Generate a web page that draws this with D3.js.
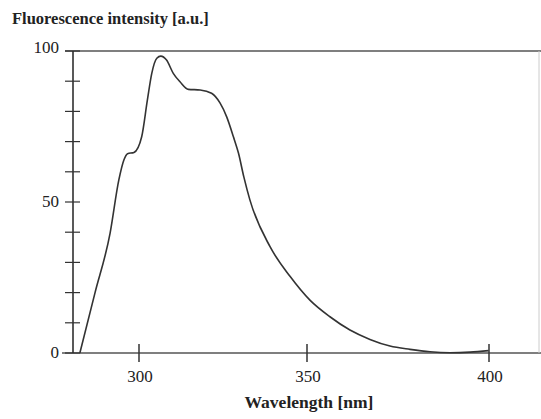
<!DOCTYPE html>
<html>
<head>
<meta charset="utf-8">
<style>
  body { margin: 0; background: #fff; }
  svg { display: block; }
  text { font-family: "Liberation Serif", "DejaVu Serif", serif; fill: #222; }
</style>
</head>
<body>
<svg width="541" height="419"></svg>
<script src="https://d3js.org/d3.v7.min.js"></script>
<script>

// emission spectrum
var wavelength = [282.4, 286.9, 291.4, 294.0, 295.5, 296.6, 298.5, 300.8, 302.5, 303.8, 305.3, 306.5,
                  308.2, 310.2, 312.2, 314.7, 318.2, 321.6, 324.1, 326.1, 328.1, 329.6, 331.2, 333.0,
                  339.0, 345.0, 350.8, 356.3, 361.8, 367.3, 372.8, 378.3, 383.8, 389.3, 394.8, 399.9];
var intensity  = [0, 19.9, 39.7, 57.3, 63.9, 66.0, 66.4, 71.6, 83.8, 92.6, 97.6, 98.3,
                  97.0, 92.6, 89.8, 87.3, 87.1, 86.0, 82.8, 78.2, 71.6, 66.2, 58.3, 50.7,
                  35.2, 25.3, 17.5, 12.0, 7.6, 4.5, 2.3, 1.2, 0.4, 0.1, 0.3, 0.8];

var xTicks = [300, 350, 400];
var yTicks = [0, 50, 100];
var yMinor = d3.range(0, 101, 10);

var svg = d3.select("svg");

// the scan is slightly stretched to the right, so the x scale is piecewise
var x = d3.scaleLinear().domain([300, 350, 400]).range([139, 307, 489]);
var y = d3.scaleLinear().domain([0, 100]).range([353, 51]);

var data = wavelength.map(function(w, i) { return {w: w, v: intensity[i]}; });

// frame lines
svg.append("line")
    .attr("x1", 65).attr("x2", 541)
    .attr("y1", y(100)).attr("y2", y(100))
    .attr("stroke", "#555").attr("stroke-width", 1.5);
svg.append("line")
    .attr("x1", 62).attr("x2", 541)
    .attr("y1", y(0)).attr("y2", y(0))
    .attr("stroke", "#555").attr("stroke-width", 1.5);
svg.append("line")
    .attr("x1", 539).attr("x2", 539)
    .attr("y1", y(100)).attr("y2", y(0))
    .attr("stroke", "#ccc").attr("stroke-width", 1);

// y axis
svg.append("line")
    .attr("x1", 73).attr("x2", 73)
    .attr("y1", y(100)).attr("y2", y(0))
    .attr("stroke", "#222").attr("stroke-width", 1.5);

svg.selectAll(".ytick")
  .data(yMinor)
  .enter().append("line")
    .attr("class", "ytick")
    .attr("x1", 65).attr("x2", 80)
    .attr("y1", function(d) { return y(d); })
    .attr("y2", function(d) { return y(d); })
    .attr("stroke", "#333").attr("stroke-width", 1.2);

svg.selectAll(".ylab")
  .data(yTicks)
  .enter().append("text")
    .attr("class", "ylab")
    .attr("x", 59)
    .attr("y", function(d) { return y(d) + (d == 100 ? 2 : 5); })
    .attr("text-anchor", "end")
    .attr("font-size", 17)
    .text(function(d) { return d; });

// x ticks
svg.selectAll(".xtick")
  .data(xTicks)
  .enter().append("line")
    .attr("class", "xtick")
    .attr("x1", function(d) { return x(d); })
    .attr("x2", function(d) { return x(d); })
    .attr("y1", 344).attr("y2", 362)
    .attr("stroke", "#333").attr("stroke-width", 1.5);

svg.selectAll(".xlab")
  .data(xTicks)
  .enter().append("text")
    .attr("class", "xlab")
    .attr("x", function(d) { return x(d) + 1; })
    .attr("y", 382)
    .attr("text-anchor", "middle")
    .attr("font-size", 17)
    .text(function(d) { return d; });

// titles
svg.append("text")
    .attr("x", 12).attr("y", 24)
    .attr("font-size", 16.5)
    .attr("font-weight", "bold")
    .text("Fluorescence intensity [a.u.]");

svg.append("text")
    .attr("x", 309).attr("y", 408)
    .attr("text-anchor", "middle")
    .attr("font-size", 17.5)
    .attr("font-weight", "bold")
    .text("Wavelength [nm]");

// spectrum
var line = d3.line()
    .x(function(d) { return x(d.w); })
    .y(function(d) { return y(d.v); })
    .curve(d3.curveMonotoneX);

svg.append("path")
    .datum(data)
    .attr("d", line)
    .attr("fill", "none")
    .attr("stroke", "#333")
    .attr("stroke-width", 1.6);

</script>
</body>
</html>
